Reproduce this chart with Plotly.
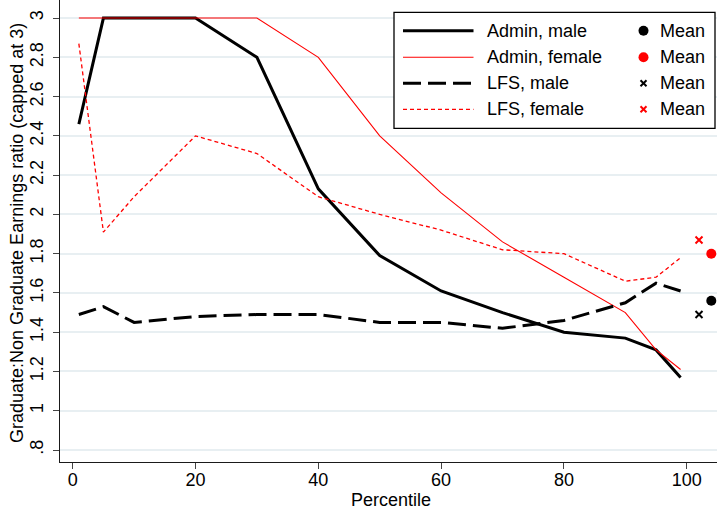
import plotly.graph_objects as go

# ---- data ----
percentiles = [1, 5, 10, 20, 30, 40, 50, 60, 70, 80, 90, 95, 99]
admin_male = [2.46, 3.00, 3.00, 3.00, 2.80, 2.13, 1.79, 1.61, 1.50, 1.40, 1.37, 1.31, 1.17]
admin_female = [3.00, 3.00, 3.00, 3.00, 3.00, 2.80, 2.40, 2.11, 1.86, 1.68, 1.50, 1.31, 1.21]
lfs_male = [1.49, 1.53, 1.45, 1.48, 1.49, 1.49, 1.45, 1.45, 1.42, 1.46, 1.55, 1.65, 1.61]
lfs_female = [2.87, 1.91, 2.09, 2.40, 2.31, 2.09, 2.00, 1.92, 1.82, 1.80, 1.66, 1.68, 1.78]

mean_x_admin = [104]
mean_x_lfs = [102]
admin_male_mean = [1.56]
admin_female_mean = [1.80]
lfs_male_mean = [1.49]
lfs_female_mean = [1.87]

x_ticks = [0, 20, 40, 60, 80, 100]
y_ticks = [0.8, 1.0, 1.2, 1.4, 1.6, 1.8, 2.0, 2.2, 2.4, 2.6, 2.8, 3.0]
y_tick_labels = [".8", "1", "1.2", "1.4", "1.6", "1.8", "2", "2.2", "2.4", "2.6", "2.8", "3"]

series_names = ["Admin, male", "Admin, female", "LFS, male", "LFS, female"]
mean_label = "Mean"
x_title = "Percentile"
y_title = "Graduate:Non Graduate Earnings ratio (capped at 3)"

RED = "#ff0000"
BLACK = "#000000"
FONT = "Liberation Sans, Arial, sans-serif"

W, H = 717, 510
ML, MR, MT, MB = 60, 0, 0, 48
PW, PH = W - ML - MR, H - MT - MB


def px(x):
    return (x - ML) / PW


def py(y):
    return 1 - (y - MT) / PH


fig = go.Figure()

fig.add_trace(go.Scatter(x=percentiles, y=admin_male, mode="lines", name=series_names[0],
                         line=dict(color=BLACK, width=3), showlegend=False))
fig.add_trace(go.Scatter(x=percentiles, y=admin_female, mode="lines", name=series_names[1],
                         line=dict(color=RED, width=1.1), showlegend=False))
fig.add_trace(go.Scatter(x=percentiles, y=lfs_male, mode="lines", name=series_names[2],
                         line=dict(color=BLACK, width=3, dash="18px,7px"), showlegend=False))
fig.add_trace(go.Scatter(x=percentiles, y=lfs_female, mode="lines", name=series_names[3],
                         line=dict(color=RED, width=1.3, dash="4px,3px"), showlegend=False))

fig.add_trace(go.Scatter(x=mean_x_admin, y=admin_male_mean, mode="markers", name=mean_label,
                         marker=dict(color=BLACK, size=10, symbol="circle"), showlegend=False))
fig.add_trace(go.Scatter(x=mean_x_admin, y=admin_female_mean, mode="markers", name=mean_label,
                         marker=dict(color=RED, size=10, symbol="circle"), showlegend=False))
fig.add_trace(go.Scatter(x=mean_x_lfs, y=lfs_male_mean, mode="markers", name=mean_label,
                         marker=dict(color=BLACK, size=7, symbol="x-thin",
                                     line=dict(color=BLACK, width=2)), showlegend=False))
fig.add_trace(go.Scatter(x=mean_x_lfs, y=lfs_female_mean, mode="markers", name=mean_label,
                         marker=dict(color=RED, size=7, symbol="x-thin",
                                     line=dict(color=RED, width=2)), showlegend=False))

# ---- manual legend ----
shapes = []
annotations = []
shapes.append(dict(type="rect", xref="paper", yref="paper",
                   x0=px(394), x1=px(715), y0=py(12.3), y1=py(128.3),
                   line=dict(color=BLACK, width=1.3), fillcolor="white", layer="above"))
rows = [30.7, 57.3, 83.3, 109.3]
line_styles = [
    dict(color=BLACK, width=3),
    dict(color=RED, width=1.1),
    dict(color=BLACK, width=3, dash="18px,7px"),
    dict(color=RED, width=1.3, dash="4px,3px"),
]
for i, (ry, ls) in enumerate(zip(rows, line_styles)):
    shapes.append(dict(type="line", xref="paper", yref="paper",
                       x0=px(403), x1=px(473.5), y0=py(ry), y1=py(ry),
                       line=ls, layer="above"))
    annotations.append(dict(xref="paper", yref="paper", x=px(485), y=py(ry),
                            text=series_names[i], showarrow=False, xanchor="left",
                            yanchor="middle", font=dict(family=FONT, size=18, color=BLACK)))
    annotations.append(dict(xref="paper", yref="paper", x=px(658), y=py(ry),
                            text=mean_label, showarrow=False, xanchor="left",
                            yanchor="middle", font=dict(family=FONT, size=18, color=BLACK)))

for ry, col in [(rows[0], BLACK), (rows[1], RED)]:
    r = 5
    shapes.append(dict(type="circle", xref="paper", yref="paper",
                       x0=px(643.5 - r), x1=px(643.5 + r), y0=py(ry - r), y1=py(ry + r),
                       fillcolor=col, line=dict(color=col, width=0), layer="above"))
for ry, col in [(rows[2], BLACK), (rows[3], RED)]:
    d = 3
    shapes.append(dict(type="line", xref="paper", yref="paper",
                       x0=px(643.5 - d), x1=px(643.5 + d), y0=py(ry - d), y1=py(ry + d),
                       line=dict(color=col, width=2), layer="above"))
    shapes.append(dict(type="line", xref="paper", yref="paper",
                       x0=px(643.5 - d), x1=px(643.5 + d), y0=py(ry + d), y1=py(ry - d),
                       line=dict(color=col, width=2), layer="above"))

# axis titles
annotations.append(dict(xref="paper", yref="paper", x=px(391), y=py(500),
                        text=x_title, showarrow=False, xanchor="center", yanchor="middle",
                        font=dict(family=FONT, size=18, color=BLACK)))
annotations.append(dict(xref="paper", yref="paper", x=px(17), y=py(233),
                        text=y_title, showarrow=False, xanchor="center", yanchor="middle",
                        textangle=-90, font=dict(family=FONT, size=18, color=BLACK)))

fig.update_layout(
    width=W, height=H,
    margin=dict(l=ML, r=MR, t=MT, b=MB, autoexpand=False),
    paper_bgcolor="white", plot_bgcolor="white",
    font=dict(family=FONT, size=18, color=BLACK),
    shapes=shapes, annotations=annotations,
    showlegend=False,
)

fig.update_xaxes(
    range=[-2.07, 104.93],
    tickvals=x_ticks, ticktext=[str(v) for v in x_ticks],
    showgrid=False, zeroline=False,
    showline=True, linecolor="#1a1a1a", linewidth=1.3,
    ticks="outside", ticklen=6, tickwidth=1.2, tickcolor="#444444",
    ticklabelstandoff=-5,
    tickfont=dict(family=FONT, size=18, color=BLACK),
)
fig.update_yaxes(
    range=[0.739, 3.092],
    tickvals=y_ticks, ticktext=y_tick_labels, tickangle=-90,
    showgrid=True, gridcolor="#e8eff2", gridwidth=1.5, zeroline=False,
    showline=True, linecolor="#1a1a1a", linewidth=1.3,
    ticks="outside", ticklen=6, tickwidth=1.2, tickcolor="#444444",
    ticklabelstandoff=3,
    tickfont=dict(family=FONT, size=18, color=BLACK),
)

fig.write_html("out.html",
               config={"displayModeBar": False},
               post_script="document.body.style.margin='0';document.body.style.overflow='hidden';")
